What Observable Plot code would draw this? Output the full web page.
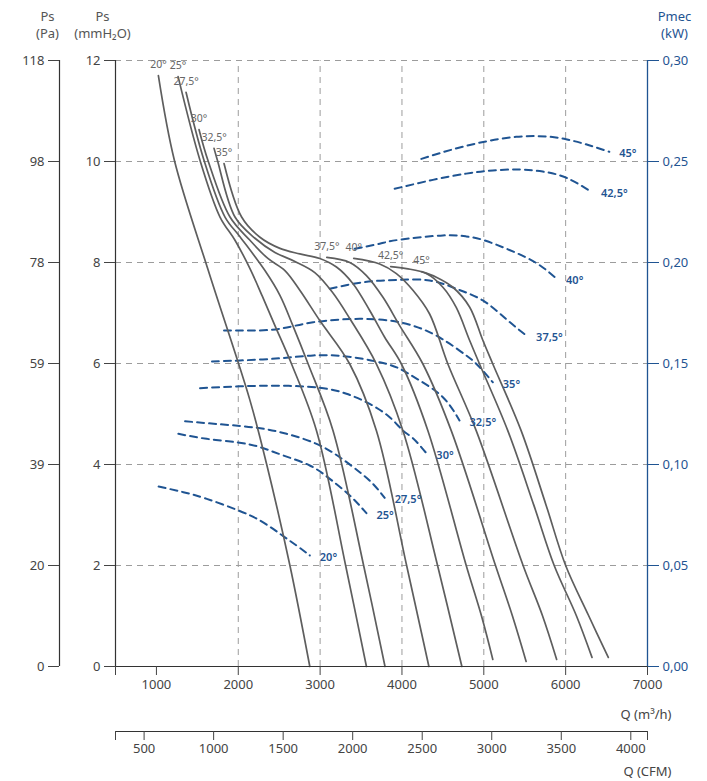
<!DOCTYPE html>
<html>
<head>
<meta charset="utf-8">
<script src="https://cdn.jsdelivr.net/npm/d3@7"></script>
<script src="https://cdn.jsdelivr.net/npm/@observablehq/plot@0.6"></script>
<style>
  html, body { margin: 0; padding: 0; background: #fff; }
  #chart svg { display: block; }
</style>
</head>
<body>
<div id="chart"></div>
<script>
// ---------- axis ticks / labels ----------
const qTicks = [500, 1000, 2000, 3000, 4000, 5000, 6000, 7000];
const gridQ = [2000, 3000, 4000, 5000, 6000];
const mmTicks = [0, 2, 4, 6, 8, 10, 12];
const paLabels = ["0", "20", "39", "59", "78", "98", "118"];
const pmecTicks = [0, 0.05, 0.10, 0.15, 0.20, 0.25, 0.30];
const pmecLabels = ["0,00", "0,05", "0,10", "0,15", "0,20", "0,25", "0,30"];
const cfmTicks = [500, 1000, 1500, 2000, 2500, 3000, 3500, 4000];
const M3H_PER_CFM = 1.699;
const angleLabels = ["20°", "25°", "27,5°", "30°", "32,5°", "35°", "37,5°", "40°", "42,5°", "45°"];

// ---------- static pressure curves: [Q m3/h, Ps mmH2O] ----------
const ps20 = [[1024,11.70],[1220,10.02],[1634,7.84],[2143,5.27],[2346,4.01],[2631,2.00],[2874,0]];
const ps25 = [[1265,11.68],[1533,10.02],[1777,8.90],[1960,8.44],[2143,7.88],[2289,7.35],[2448,6.75],[2651,5.99],[2956,4.67],[3313,1.99],[3566,0]];
const ps275 = [[1362,11.37],[1582,10.02],[1838,8.90],[2021,8.51],[2326,7.84],[2509,7.35],[2667,6.75],[2854,5.99],[3158,4.67],[3533,1.99],[3793,0]];
const ps30 = [[1521,10.63],[1630,10.02],[1899,8.90],[2143,8.44],[2362,8.08],[2570,7.84],[2752,7.45],[2996,6.85],[3362,5.99],[3688,4.67],[4057,2.00],[4329,0]];
const ps325 = [[1704,10.26],[1746,10.02],[1960,8.90],[2204,8.48],[2448,8.20],[2692,8.02],[2935,7.80],[3155,7.40],[3362,6.89],[3688,5.99],[4012,4.67],[4435,2.00],[4732,0]];
const ps35 = [[1826,9.96],[2041,8.90],[2265,8.50],[2509,8.28],[2752,8.17],[2996,8.08],[3200,7.91],[3402,7.58],[3606,7.05],[3789,6.52],[3993,5.99],[4317,4.67],[4785,2.00],[4972,1.00],[5110,0.14]];
const ps375 = [[3082,8.10],[3362,8.00],[3566,7.74],[3768,7.31],[3972,6.75],[4256,5.99],[4602,4.67],[5143,2.00],[5350,1.00],[5517,0.10]];
const ps40 = [[3411,8.08],[3728,7.97],[3932,7.78],[4134,7.45],[4338,6.98],[4561,5.99],[4907,4.67],[5480,2.00],[5716,1.01],[5890,0.14]];
const ps425 = [[3862,7.92],[4054,7.88],[4298,7.78],[4500,7.51],[4663,7.11],[4826,6.46],[4948,5.99],[5293,4.67],[5610,3.20],[5860,2.00],[6130,1.01],[6322,0.18]];
const ps45 = [[4240,7.82],[4420,7.71],[4622,7.51],[4826,7.12],[4988,6.46],[5110,5.99],[5456,4.67],[5760,3.20],[6000,2.00],[6280,1.01],[6521,0.18]];

// ---------- absorbed power curves: [Q m3/h, Pmec kW] ----------
const pm20 = [[1027,0.0891],[1329,0.0863],[1615,0.0830],[1980,0.0776],[2265,0.0723],[2509,0.0657],[2712,0.0599],[2874,0.0550]];
const pm25 = [[1268,0.1152],[1615,0.1127],[1980,0.1110],[2265,0.1086],[2549,0.1045],[2874,0.0995],[3118,0.0929],[3362,0.0847],[3566,0.0759]];
const pm275 = [[1350,0.1214],[1817,0.1198],[2224,0.1182],[2590,0.1152],[2956,0.1102],[3240,0.1036],[3484,0.0962],[3646,0.0904],[3789,0.0835]];
const pm30 = [[1533,0.1378],[2021,0.1387],[2509,0.1390],[2996,0.1380],[3322,0.1350],[3606,0.1300],[3850,0.1234],[4012,0.1168],[4134,0.1130],[4298,0.1056]];
const pm325 = [[1679,0.1510],[2021,0.1515],[2509,0.1526],[2915,0.1540],[3322,0.1535],[3728,0.1506],[3972,0.1474],[4216,0.1416],[4500,0.1333],[4703,0.1218]];
const pm35 = [[1826,0.1663],[2143,0.1663],[2509,0.1672],[2915,0.1704],[3484,0.1721],[3973,0.1704],[4378,0.1647],[4703,0.1564],[4907,0.1499],[5110,0.1407]];
const pm375 = [[3118,0.1870],[3524,0.1902],[3932,0.1914],[4338,0.1911],[4663,0.1870],[4988,0.1812],[5273,0.1720],[5517,0.1639]];
const pm40 = [[3423,0.2068],[3728,0.2093],[3972,0.2113],[4500,0.2134],[4785,0.2129],[4988,0.2112],[5313,0.2062],[5639,0.1998],[5883,0.1922]];
const pm425 = [[3911,0.2365],[4378,0.2409],[4785,0.2440],[5110,0.2456],[5435,0.2460],[5720,0.2450],[6005,0.2420],[6310,0.2351]];
const pm45 = [[4237,0.2513],[4622,0.2560],[5009,0.2598],[5395,0.2622],[5761,0.2624],[6005,0.2610],[6249,0.2585],[6533,0.2548]];

// ---------- tables built from the arrays ----------
const psList = [ps20, ps25, ps275, ps30, ps325, ps35, ps375, ps40, ps425, ps45];
const pmList = [pm20, pm25, pm275, pm30, pm325, pm35, pm375, pm40, pm425, pm45];
const psData = psList.flatMap((pts, i) => pts.map(([q, h]) => ({angle: angleLabels[i], q, h})));
const pmData = pmList.flatMap((pts, i) => pts.map(([q, p]) => ({angle: angleLabels[i], q, p})));
const psStarts = psList.map((pts, i) => ({angle: angleLabels[i], q: pts[0][0], h: pts[0][1]}));
const pmEnds = pmList.map((pts, i) => ({angle: angleLabels[i], q: pts[pts.length - 1][0], p: pts[pts.length - 1][1]}));

const PMEC_SCALE = 40; // 0.30 kW aligns with 12 mmH2O
const BLUE = "#1f5492";
const GRAY_CURVE = "#5e5e5e";
const GRID = "#9c9c9c";
const TXT = "#444";
const FONT = "Noto Sans";

const chart = Plot.plot({
  width: 707,
  height: 781,
  marginLeft: 115,
  marginRight: 60,
  marginTop: 60,
  marginBottom: 115,
  x: {type: "linear", domain: [500, 7000], axis: null},
  y: {type: "linear", domain: [0, 12], axis: null},
  style: {fontFamily: FONT, fontSize: "13px", background: "#fff", color: TXT},
  marks: [
    // grid
    Plot.ruleY(mmTicks.filter(d => d > 0), {stroke: GRID, strokeWidth: 1, strokeDasharray: "6,5"}),
    Plot.ruleX(gridQ, {y1: 0, y2: 12, stroke: GRID, strokeWidth: 1, strokeDasharray: "6,5"}),

    // curves
    Plot.line(pmData, {x: "q", y: d => d.p * PMEC_SCALE, z: "angle", stroke: BLUE, strokeWidth: 2, strokeDasharray: "7,5", curve: "natural"}),
    Plot.line(psData, {x: "q", y: "h", z: "angle", stroke: GRAY_CURVE, strokeWidth: 1.7, curve: "catmull-rom"}),

    // curve labels
    Plot.text(psStarts, {x: "q", y: "h", text: "angle", dy: -11, textAnchor: "middle", fill: "#666", fontSize: 10.5, fontFamily: FONT}),
    Plot.text(pmEnds, {x: "q", y: d => d.p * PMEC_SCALE, text: "angle", dx: 10, dy: 2, textAnchor: "start", fill: BLUE, fontSize: 11, fontWeight: 600, fontFamily: FONT}),

    // left axis: mmH2O
    Plot.ruleX([500], {y1: 0, y2: 12, stroke: "#333", strokeWidth: 1.2}),
    Plot.axisY(mmTicks, {anchor: "left", tickSize: 11, tickPadding: 4, label: null, color: TXT, fontSize: 13, tickFormat: d => String(d)}),
    // far-left axis: Pa
    Plot.ruleX([500], {y1: 0, y2: 12, dx: -56, stroke: "#333", strokeWidth: 1.2}),
    Plot.axisY(mmTicks, {anchor: "left", dx: -56, tickSize: 11, tickPadding: 4, label: null, color: TXT, fontSize: 13, tickFormat: d => paLabels[mmTicks.indexOf(d)]}),
    // right axis: Pmec
    Plot.ruleX([7000], {y1: 0, y2: 12, stroke: BLUE, strokeWidth: 1.3}),
    Plot.axisY(pmecTicks.map(p => p * PMEC_SCALE), {anchor: "right", tickSize: 11, tickPadding: 4, label: null, color: BLUE, fontSize: 13, tickFormat: d => pmecLabels[Math.round(d / PMEC_SCALE / 0.05)]}),

    // bottom axis: m3/h
    Plot.ruleY([0], {stroke: "#333", strokeWidth: 1.2}),
    Plot.axisX(qTicks, {anchor: "bottom", tickSize: 9, tickPadding: 4, label: null, color: TXT, fontSize: 13, tickFormat: d => d === 500 ? "" : String(d)}),
    // lower axis: CFM
    Plot.ruleY([0], {dy: 65, stroke: "#333", strokeWidth: 1.2}),
    Plot.axisX([500, 7000], {anchor: "bottom", dy: 65, tickSize: 9, label: null, color: TXT, tickFormat: () => ""}),
    Plot.axisX(cfmTicks.map(c => c * M3H_PER_CFM), {anchor: "bottom", dy: 65, tickSize: 9, tickPadding: 3, label: null, color: TXT, fontSize: 13, tickFormat: d => String(Math.round(d / M3H_PER_CFM))}),

    // axis titles
    Plot.text(["Q (m³/h)"], {frameAnchor: "bottom-right", dx: 24, dy: 48, textAnchor: "end", lineAnchor: "middle", fill: TXT, fontSize: 13}),
    Plot.text(["Q (CFM)"], {frameAnchor: "bottom-right", dx: 24, dy: 105, textAnchor: "end", lineAnchor: "middle", fill: TXT, fontSize: 13}),
    Plot.text(["Ps"], {frameAnchor: "top-left", dx: -68, dy: -44, textAnchor: "middle", lineAnchor: "middle", fill: "#555", fontSize: 13}),
    Plot.text(["(Pa)"], {frameAnchor: "top-left", dx: -68, dy: -27, textAnchor: "middle", lineAnchor: "middle", fill: "#555", fontSize: 13}),
    Plot.text(["Ps"], {frameAnchor: "top-left", dx: -13, dy: -44, textAnchor: "middle", lineAnchor: "middle", fill: "#555", fontSize: 13}),
    Plot.text(["(mmH₂O)"], {frameAnchor: "top-left", dx: -13, dy: -27, textAnchor: "middle", lineAnchor: "middle", fill: "#555", fontSize: 13}),
    Plot.text(["Pmec"], {frameAnchor: "top-right", dx: 27, dy: -44, textAnchor: "middle", lineAnchor: "middle", fill: BLUE, fontSize: 13}),
    Plot.text(["(kW)"], {frameAnchor: "top-right", dx: 27, dy: -27, textAnchor: "middle", lineAnchor: "middle", fill: BLUE, fontSize: 13})
  ]
});

document.getElementById("chart").appendChild(chart);
</script>
</body>
</html>
